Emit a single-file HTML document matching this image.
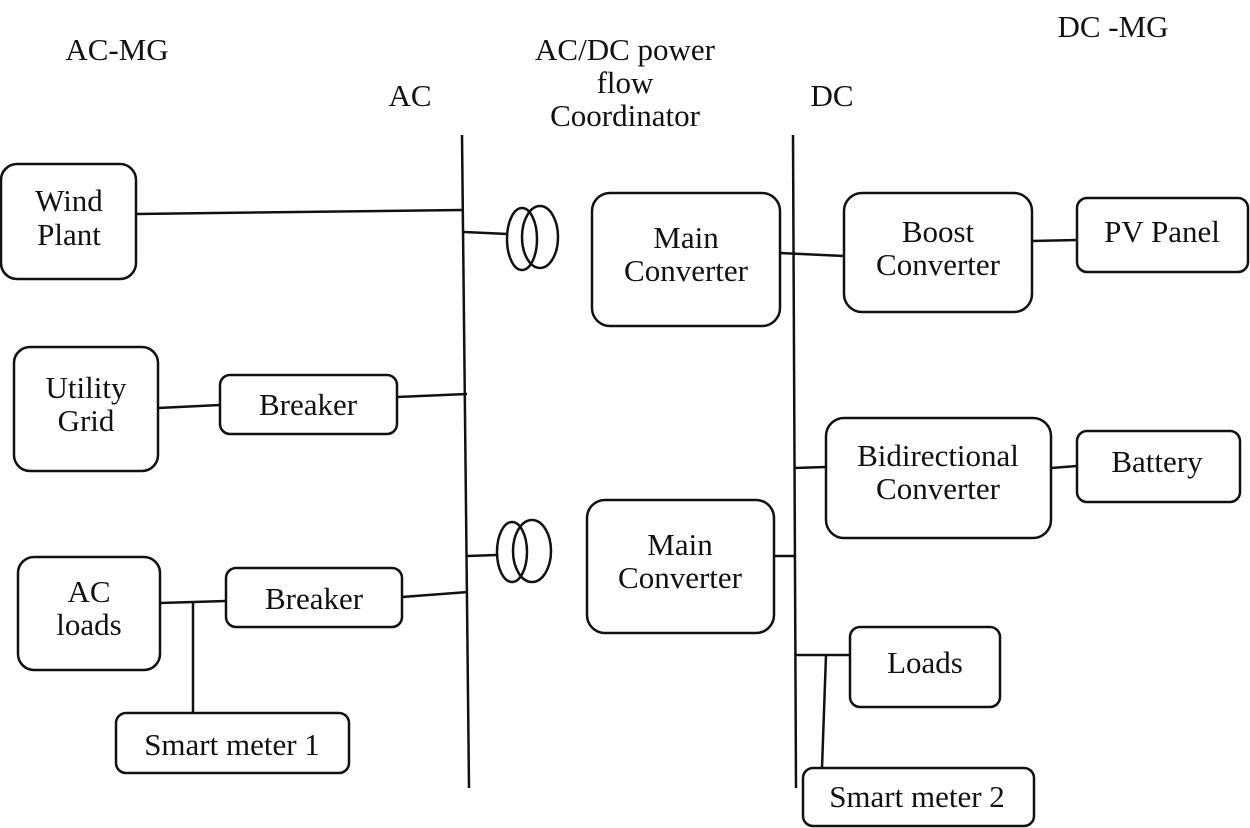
<!DOCTYPE html>
<html><head><style>body{margin:0;background:#fff}svg{display:block}</style></head><body>
<svg width="1250" height="828" xmlns="http://www.w3.org/2000/svg" font-family="'Liberation Serif', serif" font-size="31" fill="none" stroke="#111" stroke-width="2.5">
<g fill="#111" stroke="none" text-anchor="middle">
<text x="117" y="60">AC-MG</text>
<text x="410" y="106">AC</text>
<text x="625" y="60">AC/DC power</text>
<text x="625" y="93">flow</text>
<text x="625" y="126">Coordinator</text>
<text x="832" y="106">DC</text>
<text x="1113" y="37">DC -MG</text>
<text x="69" y="211">Wind</text><text x="69" y="245">Plant</text>
<text x="86" y="398">Utility</text><text x="86" y="431">Grid</text>
<text x="308" y="415">Breaker</text>
<text x="89" y="602">AC</text><text x="89" y="635">loads</text>
<text x="314" y="609">Breaker</text>
<text x="232" y="755">Smart meter 1</text>
<text x="686" y="248">Main</text><text x="686" y="281">Converter</text>
<text x="680" y="555">Main</text><text x="680" y="588">Converter</text>
<text x="938" y="242">Boost</text><text x="938" y="275">Converter</text>
<text x="1162" y="242">PV Panel</text>
<text x="938" y="466">Bidirectional</text><text x="938" y="499">Converter</text>
<text x="1157" y="472">Battery</text>
<text x="925" y="673">Loads</text>
<text x="917" y="807">Smart meter 2</text>
</g>
<line x1="462" y1="135" x2="469" y2="788"/>
<line x1="793" y1="135" x2="796" y2="788"/>
<rect x="1" y="164" width="135" height="115" rx="16"/>
<rect x="14" y="347" width="144" height="124" rx="16"/>
<rect x="220" y="375" width="177" height="59" rx="10"/>
<rect x="18" y="557" width="142" height="113" rx="16"/>
<rect x="226" y="568" width="176" height="59" rx="10"/>
<rect x="116" y="713" width="233" height="60" rx="10"/>
<rect x="592" y="193" width="188" height="133" rx="18"/>
<rect x="587" y="500" width="187" height="133" rx="18"/>
<rect x="844" y="193" width="188" height="119" rx="18"/>
<rect x="1077" y="198" width="171" height="74" rx="10"/>
<rect x="826" y="418" width="225" height="120" rx="18"/>
<rect x="1077" y="431" width="163" height="71" rx="10"/>
<rect x="850" y="627" width="150" height="80" rx="10"/>
<rect x="803" y="768" width="231" height="58" rx="10"/>
<line x1="136" y1="214" x2="462" y2="210"/>
<line x1="464" y1="232" x2="508" y2="234"/>
<ellipse cx="522" cy="239" rx="15" ry="31"/>
<ellipse cx="540" cy="237" rx="18" ry="31"/>
<line x1="158" y1="408" x2="220" y2="405"/>
<line x1="397" y1="397" x2="467" y2="394"/>
<line x1="467" y1="556" x2="497" y2="555"/>
<ellipse cx="512" cy="552" rx="15" ry="30"/>
<ellipse cx="532" cy="551" rx="19" ry="31"/>
<line x1="160" y1="603" x2="226" y2="601"/>
<line x1="402" y1="597" x2="468" y2="592"/>
<line x1="193" y1="603" x2="193" y2="713"/>
<line x1="780" y1="253" x2="844" y2="256"/>
<line x1="1032" y1="241" x2="1077" y2="240"/>
<line x1="794" y1="468" x2="826" y2="467"/>
<line x1="1051" y1="468" x2="1077" y2="466"/>
<line x1="774" y1="556" x2="795" y2="556"/>
<line x1="795" y1="655" x2="850" y2="655"/>
<line x1="826" y1="655" x2="822" y2="768"/>
</svg>
</body></html>
